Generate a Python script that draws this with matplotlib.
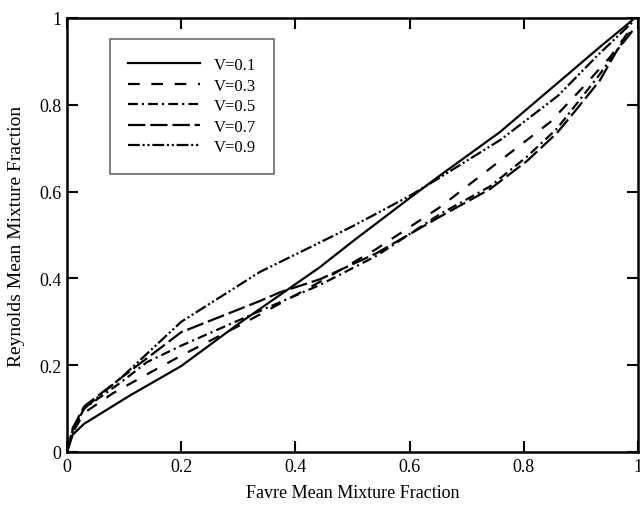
import matplotlib
matplotlib.use("Agg")
import matplotlib.pyplot as plt

plt.rcParams["font.family"] = ["Liberation Serif", "DejaVu Serif"]
plt.rcParams["lines.scale_dashes"] = False

# Favre mean mixture fraction (x) and Reynolds mean mixture fraction (y)
v01_x = [0.0, 0.01, 0.03, 0.11, 0.2, 0.3, 0.443, 0.5, 0.6, 0.653, 0.758, 0.85, 0.933, 0.99]
v01_y = [0.0, 0.04, 0.065, 0.13, 0.198, 0.295, 0.426, 0.485, 0.585, 0.637, 0.737, 0.84, 0.933, 0.995]

v03_x = [0.0, 0.01, 0.03, 0.08, 0.147, 0.2, 0.3, 0.443, 0.542, 0.653, 0.77, 0.846, 0.904, 0.951, 0.99]
v03_y = [0.0, 0.045, 0.09, 0.135, 0.184, 0.222, 0.29, 0.392, 0.468, 0.564, 0.683, 0.76, 0.841, 0.91, 0.98]

v05_x = [0.0, 0.01, 0.03, 0.094, 0.14, 0.2, 0.338, 0.443, 0.542, 0.653, 0.741, 0.805, 0.858, 0.93, 0.99]
v05_y = [0.0, 0.05, 0.1, 0.16, 0.207, 0.245, 0.325, 0.385, 0.452, 0.548, 0.612, 0.68, 0.745, 0.865, 0.975]

v07_x = [0.0, 0.01, 0.03, 0.094, 0.2, 0.338, 0.373, 0.443, 0.542, 0.653, 0.741, 0.805, 0.858, 0.89, 0.933, 0.963, 0.99]
v07_y = [0.0, 0.055, 0.105, 0.17, 0.276, 0.348, 0.368, 0.398, 0.458, 0.542, 0.606, 0.67, 0.735, 0.786, 0.856, 0.925, 0.97]

v09_x = [0.0, 0.01, 0.03, 0.094, 0.2, 0.338, 0.42, 0.5, 0.6, 0.65, 0.76, 0.86, 0.93, 0.99]
v09_y = [0.0, 0.05, 0.1, 0.17, 0.30, 0.415, 0.468, 0.52, 0.59, 0.63, 0.72, 0.821, 0.915, 0.99]

labels = ["V=0.1", "V=0.3", "V=0.5", "V=0.7", "V=0.9"]

stijlen = [
    "-",
    (0, (8.4, 8.4)),
    (0, (7, 3, 1.5, 3)),
    (0, (12.5, 3.5)),
    (0, (8.5, 2, 1.5, 2, 1.5, 2)),
]

fig = plt.figure(figsize=(6.4, 5.1), dpi=100)
ax = fig.add_axes([0.1047, 0.1118, 0.8923, 0.851])

reeksen = [(v01_x, v01_y), (v03_x, v03_y), (v05_x, v05_y), (v07_x, v07_y), (v09_x, v09_y)]
for (xs, ys), stijl, label in zip(reeksen, stijlen, labels):
    ax.plot(xs, ys, color="black", linestyle=stijl, linewidth=1.6, label=label)

ax.set_xlim(0, 1)
ax.set_ylim(0, 1)
ticks = [0, 0.2, 0.4, 0.6, 0.8, 1]
tick_labels = ["0", "0.2", "0.4", "0.6", "0.8", "1"]
ax.set_xticks(ticks)
ax.set_xticklabels(tick_labels)
ax.set_yticks(ticks)
ax.set_yticklabels(tick_labels)

ax.tick_params(direction="in", length=8, width=1.5, top=True, right=True,
               labelsize=13, pad=4)
for spine in ax.spines.values():
    spine.set_linewidth(1.8)

ax.set_xlabel("Favre Mean Mixture Fraction", fontsize=13, labelpad=7)
ax.set_ylabel("Reynolds Mean Mixture Fraction", fontsize=14, labelpad=10)

leg = ax.legend(
    loc="upper left",
    bbox_to_anchor=(0.0753, 0.9516),
    fontsize=12,
    frameon=True,
    fancybox=False,
    handlelength=4.3,
    handletextpad=0.8,
    labelspacing=0.27,
    borderpad=1.1,
    borderaxespad=0,
)
leg.get_frame().set_edgecolor("#444444")
leg.get_frame().set_linewidth(1.2)

fig.savefig("out.png", dpi=100)
